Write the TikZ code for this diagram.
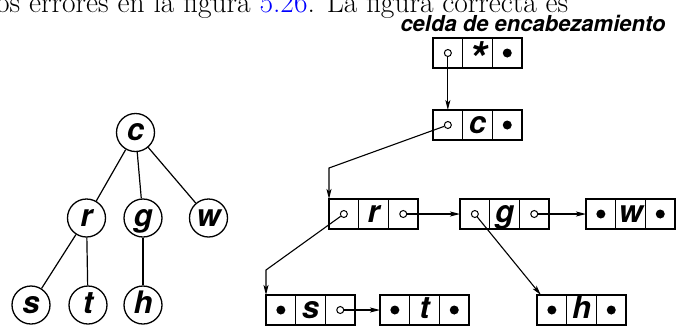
\documentclass[tikz,border=0pt]{standalone}
\usepackage{fontspec}
\newfontfamily\hv{TeX Gyre Heros}
\usetikzlibrary{arrows.meta,calc}

% three-cell record: name, x, y of top-left corner, contents of the cells
\newcommand\record[6]{%
  \node[cell,anchor=north west] (#1a) at (#2,#3) {#4};
  \node[cell,anchor=west] (#1b) at (#1a.east) {#5};
  \node[cell,anchor=west] (#1c) at (#1b.east) {#6};}

\begin{document}
\begin{tikzpicture}[x=1pt,y=-1pt,
  letters/.style={font=\hv\bfseries\itshape\fontsize{31}{31}\selectfont,
    text height=16.5pt, text depth=0pt},
  cell/.style={draw, line width=1.3pt, minimum width=29.7pt, minimum height=30pt,
    inner sep=0pt, outer sep=0pt, letters},
  tnode/.style={circle, draw, line width=1.3pt, minimum size=38pt,
    inner sep=0pt, letters},
  edge/.style={line width=1.2pt},
  ptr/.style={circle, draw, line width=1pt, fill=white, minimum size=7pt, inner sep=0pt},
  dot/.style={circle, fill=black, minimum size=9pt, inner sep=0pt},
  arr/.style={line width=1.1pt, -{Stealth[length=10pt,width=5pt,inset=2.5pt]}}]

\useasboundingbox (0,0) rectangle (676,325);
\clip (0,0) rectangle (676,325);

% running text above the figure
\node[anchor=base west, inner sep=0pt, font=\fontsize{29.5}{31}\selectfont]
  (linea) at (-4,12.5) {os errores en la figura \textcolor{blue}{5.26}. La figura correcta es};

% the tree
\node[tnode] (tc) at (135.5,132.5) {c};
\node[tnode] (tr) at (86.5,218) {r};
\node[tnode] (tg) at (143,218) {g};
\node[tnode] (tw) at (208.5,218) {w};
\node[tnode] (ts) at (31,305) {s};
\node[tnode] (tt) at (88,305) {t};
\node[tnode] (th) at (143,305) {h};
\draw[edge] (tc) -- (tr);
\draw[edge] (tc) -- (tg);
\draw[edge] (tc) -- (tw);
\draw[edge] (tr) -- (ts);
\draw[edge] (tr) -- (tt);
\draw[edge] (tg) -- (th);

% header label
\node[anchor=base, inner sep=0pt, font=\hv\bfseries\itshape\fontsize{22}{24}\selectfont]
  (lbl) at (533,31) {celda de encabezamiento};

% the linked representation
\record{hd}{433}{38}{}{\raisebox{-0.45em}{\scalebox{1.5}{*}}}{}
\record{c}{433}{110}{}{c}{}
\record{r}{329}{199}{}{r}{}
\record{g}{460}{199}{}{g}{}
\record{w}{586}{199}{}{w}{}
\record{s}{266}{295}{}{s}{}
\record{t}{380}{295}{}{t}{}
\record{h}{537}{295}{}{h}{}

% empty pointers (filled dots)
\node[dot] (hdd) at (hdc) {};
\node[dot] (cd) at (cc) {};
\node[dot] (wd1) at (wa) {};
\node[dot] (wd3) at (wc) {};
\node[dot] (sd) at (sa) {};
\node[dot] (td1) at (ta) {};
\node[dot] (td3) at (tc) {};
\node[dot] (hd1) at (ha) {};
\node[dot] (hd3) at (hc) {};

% pointer origins
\node[ptr] (hdp) at (hda) {};
\node[ptr] (cp) at (ca) {};
\node[ptr] (rp1) at (ra) {};
\node[ptr] (rp3) at (rc) {};
\node[ptr] (gp1) at (ga) {};
\node[ptr] (gp3) at (gc) {};
\node[ptr] (sp3) at (sc) {};

% bends of the child pointers
\coordinate (kr) at ($(ra.north west)+(0,-31)$);
\coordinate (ks) at ($(sa.north west)+(0,-25)$);
\coordinate (kh) at ($(ha.north west)!0.13!(ha.north east)$);

\draw[arr] (hdp) -- (ca.north);
\draw[arr] (cp) -- (kr) -- (ra.north west);
\draw[arr] (rp1) -- (ks) -- (sa.north west);
\draw[arr] (rp3) -- (ga.west);
\draw[arr] (gp1) -- (kh);
\draw[arr] (gp3) -- (wa.west);
\draw[arr] (sp3) -- (ta.west);
\end{tikzpicture}
\end{document}
